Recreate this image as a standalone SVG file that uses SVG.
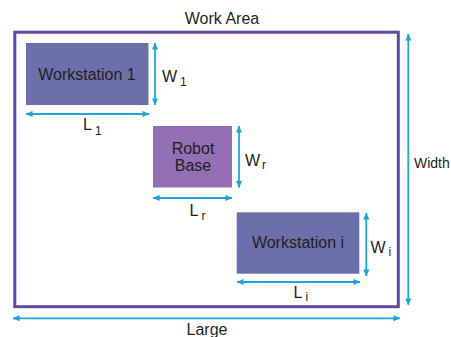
<svg xmlns="http://www.w3.org/2000/svg" width="451" height="337" viewBox="0 0 451 337">
<defs>
<marker id="ah" viewBox="0 0 8 8" refX="7.5" refY="4" markerWidth="7" markerHeight="7" markerUnits="userSpaceOnUse" orient="auto-start-reverse">
<path d="M0,0.5 L8,4 L0,7.5 Z" fill="#1ba5df"/>
</marker>
<style>
text{font-family:"Liberation Sans",Arial,sans-serif;fill:#231f20;font-size:16px}
.sub{font-size:12px}
.ws{fill:#6b6fab}
.rb{fill:#9370b4}
.dim{stroke:#1ba5df;stroke-width:1.8;fill:none;marker-start:url(#ah);marker-end:url(#ah)}
</style>
</defs>
<g id="work-area">
<rect x="14.8" y="32.2" width="383.5" height="274.5" fill="none" stroke="#62489e" stroke-width="3"/>
<text x="222" y="24" text-anchor="middle">Work Area</text>
</g>
<g id="workstation-1">
<rect class="ws" x="26" y="43" width="122.5" height="62"/>
<text x="87" y="79.5" text-anchor="middle">Workstation 1</text>
</g>
<g id="robot-base">
<rect class="rb" x="153" y="126" width="79" height="61.5"/>
<text x="193" y="154" text-anchor="middle">Robot</text>
<text x="193" y="171" text-anchor="middle">Base</text>
</g>
<g id="workstation-i">
<rect class="ws" x="236.7" y="212.3" width="122.6" height="61.4"/>
<text x="298" y="248" text-anchor="middle">Workstation i</text>
</g>
<g id="connectors">
<line class="dim" x1="155" y1="43" x2="155" y2="105"/>
<line class="dim" x1="26" y1="114" x2="149" y2="114"/>
<line class="dim" x1="239" y1="126" x2="239" y2="187.5"/>
<line class="dim" x1="153" y1="198" x2="232" y2="198"/>
<line class="dim" x1="366.3" y1="213" x2="366.3" y2="276"/>
<line class="dim" x1="237" y1="282" x2="360" y2="282"/>
<line class="dim" x1="408.3" y1="34" x2="408.3" y2="305"/>
<line class="dim" x1="13" y1="318.3" x2="400" y2="318.3"/>
</g>
<g id="labels">
<text x="162" y="82">W<tspan class="sub" dx="3" dy="4">1</tspan></text>
<text x="83" y="130">L<tspan class="sub" dx="3" dy="5">1</tspan></text>
<text x="245" y="165.5">W<tspan class="sub" dx="2" dy="3">r</tspan></text>
<text x="189.5" y="216">L<tspan class="sub" dx="3" dy="4">r</tspan></text>
<text x="370.5" y="253">W<tspan class="sub" dx="3" dy="3">i</tspan></text>
<text x="293.5" y="298">L<tspan class="sub" dx="3" dy="3">i</tspan></text>
<text x="414" y="168" style="font-size:14px">Width</text>
<text x="207" y="335" text-anchor="middle">Large</text>
</g>
</svg>
